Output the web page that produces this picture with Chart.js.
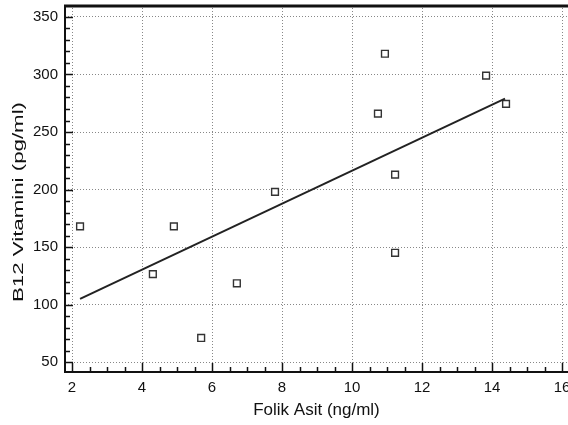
<!DOCTYPE html>
<html><head><meta charset="utf-8">
<script src="https://cdn.jsdelivr.net/npm/chart.js@4/dist/chart.umd.min.js"></script>
<style>html,body{margin:0;padding:0;background:#fff}#wrap{width:568px;height:425px}</style>
</head><body><div id="wrap"><canvas id="c" width="568" height="425"></canvas></div>
<script>
const folikX = [2.23, 4.91, 4.31, 5.69, 6.71, 7.8, 10.94, 10.74, 11.23, 13.83, 14.4, 11.23];
const b12Y   = [168, 168, 126.5, 71, 118.5, 198, 318, 266, 213, 299, 274.5, 145];
const fitX = [2.23, 14.37];
const fitY = [105, 279];
const xTicks = [2, 4, 6, 8, 10, 12, 14, 16];
const yTicks = [50, 100, 150, 200, 250, 300, 350];
const xTitle = 'Folik Asit (ng/ml)';
const yTitle = 'B12 Vitamini (pg/ml)';

const FAM = '"Liberation Sans", Arial, sans-serif';
const font = {family: FAM, size: 15};

const framePlugin = {
  id: 'frame',
  afterDraw(chart) {
    const ctx = chart.ctx, a = chart.chartArea, xs = chart.scales.x, ys = chart.scales.y;
    ctx.save();
    ctx.strokeStyle = '#111';
    ctx.lineWidth = 3;
    ctx.beginPath(); ctx.moveTo(a.left - 1, a.top + 1); ctx.lineTo(a.right, a.top + 1); ctx.stroke();
    ctx.lineWidth = 2;
    ctx.beginPath(); ctx.moveTo(a.left, a.top); ctx.lineTo(a.left, a.bottom); ctx.lineTo(a.right, a.bottom); ctx.stroke();
    ctx.lineWidth = 1.5;
    for (let v = 50; v <= 350; v += 10) {
      const y = Math.round(ys.getPixelForValue(v)) + 0.5;
      const len = (v % 50 === 0) ? 8 : 5;
      ctx.beginPath(); ctx.moveTo(a.left, y); ctx.lineTo(a.left + len, y); ctx.stroke();
    }
    for (let v = 2; v <= 16; v += 0.5) {
      const x = Math.round(xs.getPixelForValue(v)) + 0.5;
      const len = (Math.abs(v % 2) < 1e-9) ? 9 : 5;
      ctx.beginPath(); ctx.moveTo(x, a.bottom); ctx.lineTo(x, a.bottom - len); ctx.stroke();
    }
    ctx.fillStyle = '#111';
    ctx.font = '15px ' + FAM;
    ctx.textAlign = 'center'; ctx.textBaseline = 'middle';
    const w = ctx.measureText(yTitle).width;
    ctx.translate(19, 202);
    ctx.rotate(-Math.PI / 2);
    ctx.scale(200 / w, 1);
    ctx.fillText(yTitle, 0, 0);
    ctx.restore();
  }
};

new Chart(document.getElementById('c'), {
  type: 'scatter',
  data: {
    datasets: [
      {
        type: 'line',
        data: fitX.map((x, i) => ({x, y: fitY[i]})),
        borderColor: '#222', borderWidth: 2, pointRadius: 0, fill: false, showLine: true
      },
      {
        data: folikX.map((x, i) => ({x, y: b12Y[i]})),
        pointStyle: 'rect', pointRadius: 4.8, borderWidth: 1.4,
        borderColor: '#333', backgroundColor: '#fff'
      }
    ]
  },
  plugins: [framePlugin],
  options: {
    responsive: false, animation: false, devicePixelRatio: 1,
    layout: {autoPadding: false, padding: {top: 5, right: 0, left: 0, bottom: 0}},
    plugins: {legend: {display: false}, tooltip: {enabled: false}},
    scales: {
      x: {
        type: 'linear', min: 1.8, max: 16.17,
        afterBuildTicks: s => { s.ticks = xTicks.map(v => ({value: v})); },
        afterFit: s => { s.height = 53; s.paddingLeft = 0; s.paddingRight = 0; },
        grid: {color: '#888', lineWidth: 1, drawTicks: false},
        border: {display: false, dash: [1, 2]},
        ticks: {color: '#111', font, padding: 7, maxRotation: 0},
        title: {display: true, text: xTitle, color: '#111', font: {family: FAM, size: 17}, padding: {top: 1}}
      },
      y: {
        type: 'linear', min: 41.4, max: 360.4,
        afterBuildTicks: s => { s.ticks = yTicks.map(v => ({value: v})); },
        afterFit: s => { s.width = 65; s.paddingTop = 0; s.paddingBottom = 0; },
        grid: {color: '#888', lineWidth: 1, drawTicks: false},
        border: {display: false, dash: [1, 2]},
        ticks: {color: '#111', font, padding: 7},
        title: {display: false}
      }
    }
  }
});
</script></body></html>
